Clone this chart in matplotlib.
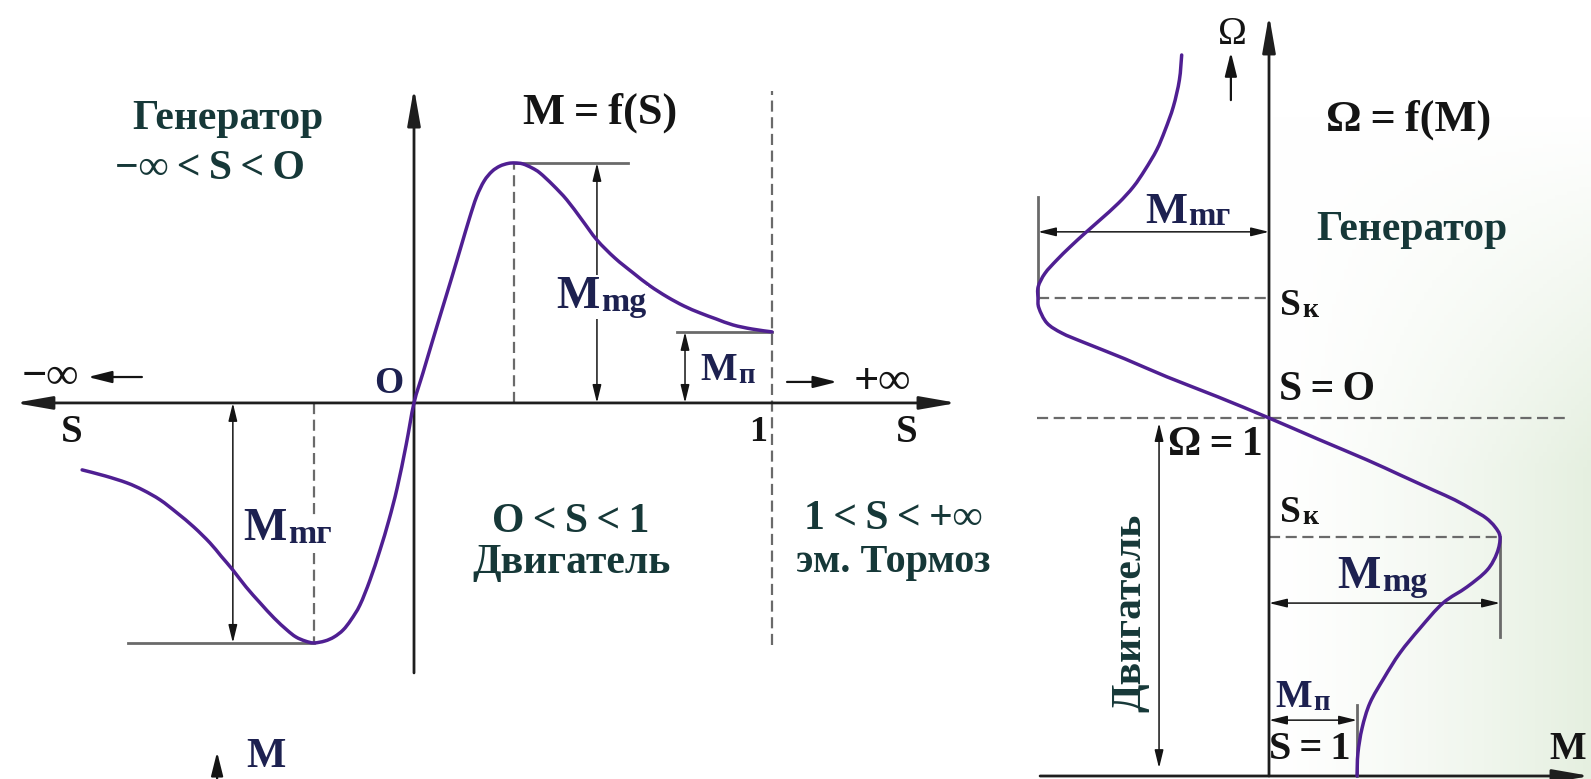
import numpy as np
import matplotlib.pyplot as plt
from matplotlib.path import Path
from matplotlib.patches import PathPatch

plt.rcParams['font.family'] = ['Liberation Serif', 'DejaVu Serif']
plt.rcParams['font.weight'] = 'bold'

# M = f(S): slip S, torque M in units of the breakdown torque
s_motor = [0.0, 0.025, 0.050, 0.078, 0.106, 0.132, 0.155, 0.175, 0.196, 0.218, 0.240,
           0.263, 0.282, 0.304, 0.330, 0.352, 0.388, 0.427, 0.469, 0.511, 0.561, 0.612,
           0.659, 0.707, 0.754, 0.799, 0.844, 0.891, 0.944, 1.0]
m_motor = [0.0, 0.125, 0.250, 0.388, 0.525, 0.655, 0.770, 0.860, 0.925, 0.965, 0.987,
           0.998, 1.0, 0.996, 0.979, 0.958, 0.908, 0.846, 0.763, 0.679, 0.604, 0.542,
           0.488, 0.442, 0.404, 0.375, 0.350, 0.325, 0.308, 0.296]
s_gen = [0.0, -0.022, -0.047, -0.070, -0.095, -0.123, -0.151, -0.176, -0.198, -0.223,
         -0.249, -0.28, -0.304, -0.330, -0.355, -0.391, -0.430, -0.469, -0.506, -0.539,
         -0.570, -0.615, -0.662, -0.709, -0.757, -0.802, -0.863, -0.927]
m_gen = [0.0, -0.175, -0.354, -0.488, -0.613, -0.738, -0.842, -0.904, -0.946, -0.975,
         -0.992, -1.0, -0.992, -0.975, -0.946, -0.896, -0.833, -0.767, -0.696, -0.638,
         -0.583, -0.517, -0.458, -0.404, -0.363, -0.333, -0.304, -0.279]

S_K = 0.28          # critical slip
M_MG = 1.0          # breakdown torque, motor
M_MR = -1.0         # breakdown torque, generator
M_P = 0.296         # starting torque

# Ω = f(M): torque M, speed Ω (relative)
m_mech = [-0.378, -0.388, -0.414, -0.450, -0.486, -0.537, -0.587, -0.652, -0.732, -0.797,
          -0.861, -0.919, -0.970, -0.999, -1.0, -0.996, -0.961, -0.896, -0.805,
          -0.623, -0.442, -0.221, 0.0, 0.212, 0.424, 0.567, 0.710, 0.805, 0.883, 0.939,
          0.978, 1.0, 0.987, 0.944, 0.857, 0.753, 0.654, 0.567, 0.498, 0.437, 0.403,
          0.385, 0.381]
w_mech = [2.014, 1.944, 1.870, 1.804, 1.749, 1.693, 1.646, 1.600, 1.553, 1.516,
          1.478, 1.441, 1.404, 1.367, 1.335, 1.307, 1.265, 1.237, 1.212,
          1.165, 1.115, 1.059, 1.0, 0.941, 0.883, 0.841, 0.799, 0.771, 0.743, 0.721,
          0.696, 0.668, 0.623, 0.575, 0.528, 0.483, 0.413, 0.344, 0.274, 0.204, 0.134,
          0.064, 0.0]

W_SK_G = 1.335
W_SK_D = 0.668
W_SYNC = 1.0
M_P_R = 0.381

CURVE = '#4f1f92'
AXIS = '#1e1e1e'
GUIDE = '#6a6a6a'
NAVY = '#1d2150'
TEAL = '#163838'
INK = '#141414'
TH = '\u2009'   # thin space


def smooth_curve(xs, ys):
    """Path through the points, joined by Catmull-Rom style Bezier pieces."""
    p = np.column_stack([xs, ys])
    verts, codes = [p[0]], [Path.MOVETO]
    n = len(p)
    for i in range(n - 1):
        p0 = p[max(i - 1, 0)]
        p1, p2 = p[i], p[i + 1]
        p3 = p[min(i + 2, n - 1)]
        verts += [p1 + (p2 - p0) / 6, p2 - (p3 - p1) / 6, p2]
        codes += [Path.CURVE4] * 3
    return Path(verts, codes)


def draw_curve(ax, xs, ys):
    ax.add_patch(PathPatch(smooth_curve(xs, ys), fc='none', ec=CURVE, lw=2.5,
                           joinstyle='round', capstyle='round', zorder=4))


def arrow(ax, tail, tip, style='-|>', lw=1.1, scale=12, hl=0.9, hw=0.22, color=INK):
    ax.annotate('', xy=tip, xytext=tail,
                arrowprops=dict(arrowstyle=f'{style},head_length={hl},head_width={hw}',
                                lw=lw, color=color, shrinkA=0, shrinkB=0,
                                mutation_scale=scale))


def sub_label(ax, x, y, main, sub, size, color=NAVY, box=False, ratio=0.74):
    bb = dict(fc='white', ec='none', pad=1) if box else None
    t = ax.text(x, y, main, fontsize=size, color=color, ha='left', va='baseline',
                bbox=bb, zorder=6)
    ax.annotate(sub, xy=(1, 0), xycoords=t, xytext=(1, 0), textcoords='offset points',
                fontsize=size * ratio, color=color, ha='left', va='bottom',
                bbox=bb, zorder=6)


fig = plt.figure(figsize=(15.91, 7.79), dpi=100)

# pale green haze toward the lower right corner
bg = fig.add_axes([0, 0, 1, 1])
bg.axis('off')
gx, gy = np.meshgrid(np.linspace(0, 1, 400), np.linspace(0, 1, 200))
t = np.clip((gx - 0.80) / 0.20, 0, 1) ** 1.3 * np.clip((gy - 0.15) / 0.45, 0, 1)
tint = np.array([0.90, 0.94, 0.88])
img = 1 - t[..., None] * (1 - tint)
bg.imshow(img, extent=[0, 1, 0, 1], origin='upper', aspect='auto')
bg.set_xlim(0, 1)
bg.set_ylim(0, 1)

# ---------- M = f(S) ----------
ax1 = fig.add_axes([0, 0, 990 / 1591, 1])
ax1.set_xlim(-1.1564, 1.6089)
ax1.set_ylim(-1.567, 1.679)
ax1.axis('off')

arrow(ax1, (-1.115, 0), (1.517, 0), style='<|-|>', lw=2.0, scale=14, hl=1.6, hw=0.28, color=AXIS)
arrow(ax1, (0, -1.125), (0, 1.3125), lw=2.0, scale=14, hl=1.6, hw=0.28, color=AXIS)

draw_curve(ax1, s_gen[::-1] + s_motor[1:], m_gen[::-1] + m_motor[1:])

dash = dict(color=GUIDE, lw=1.6, ls=(0, (5, 2.5)), zorder=2)
ax1.plot([S_K, S_K], [0, M_MG], **dash)
ax1.plot([-S_K, -S_K], [0, M_MR], **dash)
ax1.plot([1, 1], [-1.01, 1.30], **dash)

ax1.plot([S_K, 0.598], [M_MG, M_MG], color=GUIDE, lw=2.0, zorder=3)
ax1.plot([0.735, 1.0], [M_P, M_P], color=GUIDE, lw=2.0, zorder=3)
ax1.plot([-0.799, -S_K], [M_MR, M_MR], color=GUIDE, lw=2.0, zorder=3)

arrow(ax1, (0.511, 0), (0.511, M_MG), style='<|-|>')
arrow(ax1, (0.757, 0), (0.757, M_P), style='<|-|>')
arrow(ax1, (-0.506, 0), (-0.506, M_MR), style='<|-|>')

arrow(ax1, (-0.760, 0.108), (-0.911, 0.108), lw=1.6, scale=12, hl=1.2, hw=0.3)
arrow(ax1, (1.042, 0.0875), (1.182, 0.0875), lw=1.6, scale=12, hl=1.2, hw=0.3)
arrow(ax1, (-0.550, -1.57), (-0.550, -1.454), lw=1.6, scale=12, hl=1.2, hw=0.3)

ax1.text(-1.017, 0.108, '−∞', fontsize=32, color=INK, ha='center', va='center')
ax1.text(1.307, 0.0875, '+∞', fontsize=32, color=INK, ha='center', va='center')
ax1.text(-0.955, -0.125, 'S', fontsize=28, color=INK, ha='center', va='center')
ax1.text(1.377, -0.125, 'S', fontsize=28, color=INK, ha='center', va='center')
ax1.text(0.961, -0.125, '1', fontsize=26, color=INK, ha='center', va='center')
ax1.text(-0.070, 0.083, 'O', fontsize=27, color=NAVY, ha='center', va='center')
ax1.text(-0.413, -1.515, 'M', fontsize=30, color=NAVY, ha='center', va='baseline')

ax1.text(0.520, 1.208, f'M{TH}={TH}f(S)', fontsize=32, color=INK, ha='center', va='center')
ax1.text(-0.520, 1.183, 'Генератор', fontsize=30, color=TEAL, ha='center', va='center')
ax1.text(-0.570, 0.975, f'−∞{TH}<{TH}S{TH}<{TH}O', fontsize=30, color=TEAL,
         ha='center', va='center')
ax1.text(0.439, -0.496, f'O{TH}<{TH}S{TH}<{TH}1', fontsize=30, color=TEAL,
         ha='center', va='center')
ax1.text(0.439, -0.665, 'Двигатель', fontsize=30, color=TEAL, ha='center', va='center')
ax1.text(1.338, -0.483, f'1{TH}<{TH}S{TH}<{TH}+∞', fontsize=30, color=TEAL,
         ha='center', va='center')
ax1.text(1.338, -0.665, 'эм. Тормоз', fontsize=29, color=TEAL, ha='center', va='center')

sub_label(ax1, 0.397, 0.396, 'M', 'mg', 33, box=True)
sub_label(ax1, 0.799, 0.096, 'M', 'п', 28, box=True)
sub_label(ax1, -0.478, -0.571, 'M', 'mг', 33, box=True)

# ---------- Ω = f(M) ----------
ax2 = fig.add_axes([990 / 1591, 0, 601 / 1591, 1])
ax2.set_xlim(-1.2078, 1.3939)
ax2.set_ylim(-0.00838, 2.1676)
ax2.axis('off')

arrow(ax2, (0, 0), (0, 2.126), lw=2.0, scale=14, hl=1.6, hw=0.28, color=AXIS)
arrow(ax2, (-0.991, 0), (1.39, 0), lw=2.0, scale=14, hl=1.6, hw=0.28, color=AXIS)

draw_curve(ax2, m_mech, w_mech)

ax2.plot([M_MR, 0], [W_SK_G, W_SK_G], **dash)
ax2.plot([-1.004, 1.281], [W_SYNC, W_SYNC], **dash)
ax2.plot([0, M_MG], [W_SK_D, W_SK_D], **dash)

ax2.plot([M_MR, M_MR], [W_SK_G, 1.617], color=GUIDE, lw=2.0, zorder=3)
ax2.plot([M_MG, M_MG], [0.388, W_SK_D], color=GUIDE, lw=2.0, zorder=3)
ax2.plot([M_P_R, M_P_R], [0, 0.198], color=GUIDE, lw=2.0, zorder=3)

arrow(ax2, (M_MR, 1.520), (0, 1.520), style='<|-|>')
arrow(ax2, (0, 0.483), (M_MG, 0.483), style='<|-|>')
arrow(ax2, (0, 0.156), (M_P_R, 0.156), style='<|-|>')
arrow(ax2, (-0.476, 0.022), (-0.476, 0.986), style='<|-|>')
arrow(ax2, (-0.165, 1.888), (-0.165, 2.022), lw=1.6, scale=12, hl=1.2, hw=0.3)

ax2.text(-0.160, 2.072, 'Ω', fontsize=28, color=INK, ha='center', va='center',
         fontweight='normal')
ax2.text(0.606, 1.832, f'Ω{TH}={TH}f(M)', fontsize=32, color=INK, ha='center', va='center')
ax2.text(0.619, 1.525, 'Генератор', fontsize=30, color=TEAL, ha='center', va='center')
ax2.text(0.251, 1.078, f'S{TH}={TH}O', fontsize=30, color=INK, ha='center', va='center')
ax2.text(-0.234, 0.925, f'Ω{TH}={TH}1', fontsize=30, color=INK, ha='center', va='center')
ax2.text(0.177, 0.073, f'S{TH}={TH}1', fontsize=29, color=INK, ha='center', va='center')
ax2.text(1.294, 0.073, 'M', fontsize=28, color=INK, ha='center', va='center')
ax2.text(-0.602, 0.455, 'Двигатель', fontsize=30, color=TEAL, ha='center', va='center',
         rotation=90)

sub_label(ax2, 0.048, 1.288, 'S', 'к', 27, color=INK)
sub_label(ax2, 0.048, 0.709, 'S', 'к', 27, color=INK)
sub_label(ax2, -0.537, 1.545, 'M', 'mг', 32)
sub_label(ax2, 0.294, 0.525, 'M', 'mg', 33)
sub_label(ax2, 0.026, 0.193, 'M', 'п', 28)

fig.savefig('out.png', dpi=100)
